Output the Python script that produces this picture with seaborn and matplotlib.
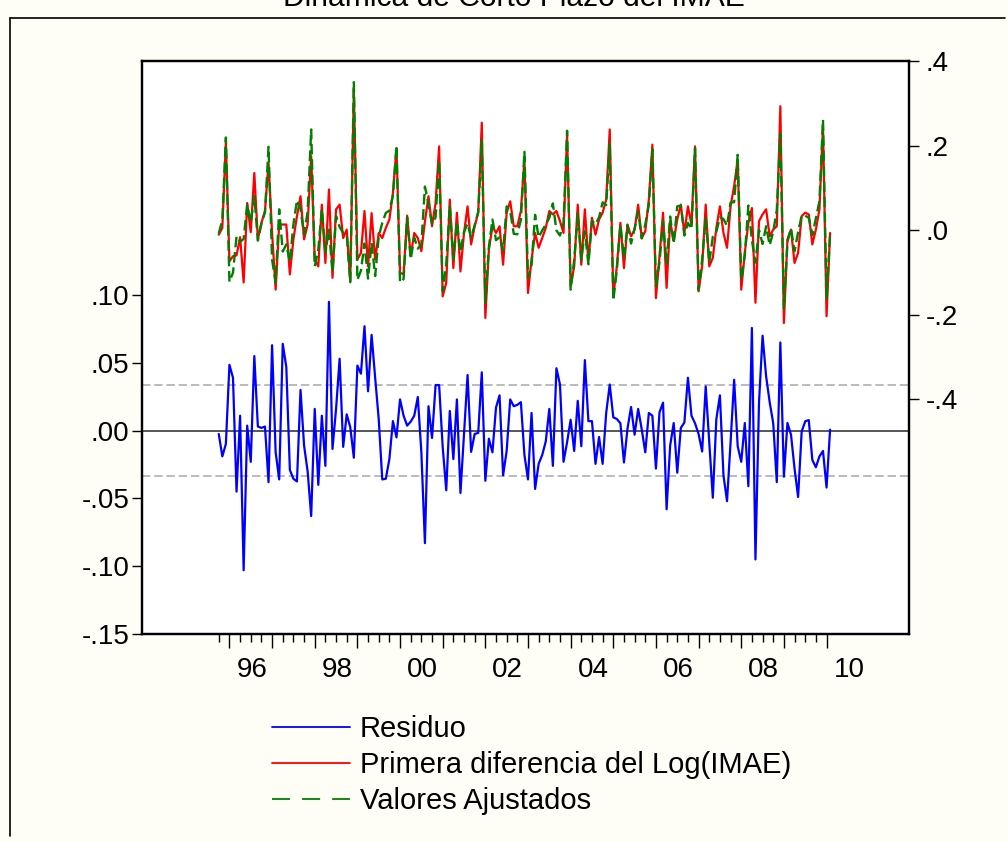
import numpy as np
import pandas as pd
import matplotlib
matplotlib.use("Agg")
import matplotlib.pyplot as plt
import seaborn as sns
from matplotlib.lines import Line2D
from matplotlib.ticker import FixedLocator, NullFormatter

# ---------------- data (monthly, 1995M10 - 2010M2) ----------------
start_month = "1995-10"

residuo = [
    -0.0025, -0.019, -0.0098, 0.0485, 0.039, -0.045, 0.011, -0.103, 0.0037, -0.023,
    0.055, 0.003, 0.002, 0.003, -0.038, 0.063, -0.016, -0.036, 0.064, 0.047,
    -0.029, -0.0355, -0.0375, 0.030, -0.011, -0.030, -0.063, 0.016, -0.040, 0.011,
    -0.026, 0.095, -0.0135, 0.016, 0.053, -0.012, 0.012, 0.0025, -0.020, 0.048,
    0.042, 0.077, 0.029, 0.0706, 0.039, 0.0086, -0.036, -0.0355, -0.021, 0.007,
    -0.005, 0.023, 0.011, 0.0037, 0.0066, 0.011, 0.0248, -0.016, -0.083, 0.018,
    -0.0054, 0.0336, 0.0336, -0.012, -0.044, 0.0145, -0.021, 0.023, -0.046, -0.0025,
    0.041, -0.0157, -0.0025, -0.0017, 0.043, -0.037, -0.006, -0.016, 0.017, 0.026,
    -0.033, -0.015, 0.023, 0.018, 0.019, 0.021, -0.018, -0.036, 0.013, -0.043,
    -0.0245, -0.018, -0.008, 0.016, -0.026, 0.046, 0.034, -0.023, -0.0086, 0.008,
    -0.015, 0.022, -0.0115, 0.052, 0.007, 0.007, -0.0245, -0.0047, -0.0245, 0.013,
    0.034, 0.0098, 0.0086, 0.0054, -0.0235, 0.0015, 0.0174, -0.003, 0.016, 0.001,
    -0.016, 0.013, 0.011, -0.028, 0.0135, 0.0206, -0.058, -0.011, 0.0056, -0.031,
    0.002, 0.006, 0.039, 0.011, 0.0054, -0.0025, -0.0154, 0.0326, -0.0086, -0.0495,
    0.0086, 0.026, -0.033, -0.052, -0.0086, 0.0375, -0.0115, -0.023, 0.0056, -0.041,
    0.0757, -0.095, 0.021, 0.070, 0.040, 0.021, 0.0054, -0.038, 0.065, -0.034,
    0.0056, -0.003, -0.028, -0.049, -0.0007, 0.0069, 0.0078, -0.0216, -0.027, -0.019,
    -0.015, -0.042, 0.0007,
]

primera_diferencia = [
    -0.011, 0.005, 0.209, -0.074, -0.062, -0.060, -0.017, -0.124, 0.064, -0.005,
    0.135, -0.022, 0.017, 0.045, 0.159, -0.007, -0.141, 0.013, 0.013, 0.013,
    -0.105, -0.022, 0.033, 0.080, -0.022, 0.013, 0.175, -0.070, -0.086, 0.060,
    -0.078, 0.096, -0.113, 0.049, 0.060, -0.019, 0.001, -0.121, 0.330, -0.070,
    -0.054, 0.045, -0.086, 0.040, -0.070, -0.007, -0.019, 0.005, 0.025, 0.088,
    0.194, -0.101, -0.105, 0.034, -0.062, -0.007, -0.019, -0.050, 0.020, 0.080,
    0.009, 0.064, 0.198, -0.157, -0.125, 0.072, -0.090, 0.041, -0.098, -0.007,
    0.056, -0.034, 0.009, 0.041, 0.254, -0.208, -0.046, 0.009, -0.007, 0.009,
    -0.082, 0.041, 0.068, 0.009, 0.009, 0.045, 0.167, -0.149, -0.070, -0.007,
    -0.042, -0.019, 0.005, 0.045, 0.037, 0.045, 0.021, -0.007, 0.226, -0.133,
    -0.086, 0.060, -0.082, 0.049, -0.074, 0.029, -0.011, 0.025, 0.041, 0.072,
    0.238, -0.157, -0.086, 0.017, -0.090, 0.013, -0.015, 0.001, 0.060, -0.019,
    -0.003, 0.072, 0.202, -0.161, -0.062, 0.041, -0.137, 0.021, -0.026, 0.025,
    0.060, -0.007, 0.056, 0.013, 0.198, -0.145, -0.086, 0.060, -0.086, -0.066,
    0.005, 0.056, -0.007, -0.042, 0.056, 0.104, 0.167, -0.141, -0.054, 0.017,
    0.052, -0.172, 0.021, 0.037, 0.049, -0.015, 0.001, 0.009, 0.293, -0.220,
    -0.022, 0.001, -0.078, -0.054, 0.033, 0.041, 0.037, -0.034, 0.001, 0.049,
    0.246, -0.204, -0.007,
]

valores_ajustados = [
    -0.0085, 0.024, 0.219, -0.1225, -0.101, -0.015, -0.028, -0.021, 0.060, 0.018,
    0.080, -0.025, 0.015, 0.042, 0.197, -0.070, -0.125, 0.049, -0.051, -0.034,
    -0.076, 0.0135, 0.0705, 0.050, -0.011, 0.043, 0.238, -0.086, -0.046, 0.049,
    -0.052, 0.001, -0.0995, 0.033, 0.007, -0.007, -0.011, -0.1235, 0.350, -0.118,
    -0.096, -0.032, -0.115, -0.0306, -0.109, -0.0156, 0.017, 0.0405, 0.046, 0.081,
    0.199, -0.124, -0.116, 0.030, -0.069, -0.018, -0.044, -0.034, 0.103, 0.062,
    0.014, 0.030, 0.164, -0.145, -0.081, 0.058, -0.069, 0.018, -0.052, -0.0045,
    0.015, -0.018, 0.0115, 0.043, 0.211, -0.171, -0.040, 0.025, -0.024, -0.017,
    -0.049, 0.056, 0.045, -0.009, -0.010, 0.024, 0.185, -0.113, -0.083, 0.036,
    -0.0175, -0.001, 0.013, 0.029, 0.063, -0.001, -0.013, 0.016, 0.235, -0.141,
    -0.071, 0.038, -0.0705, -0.003, -0.081, 0.022, 0.0135, 0.030, 0.0655, 0.059,
    0.204, -0.167, -0.095, 0.012, -0.0665, 0.0115, -0.032, 0.004, 0.044, -0.020,
    0.013, 0.059, 0.191, -0.133, -0.076, 0.020, -0.079, 0.032, -0.032, 0.056,
    0.058, -0.013, 0.017, 0.002, 0.193, -0.142, -0.070, 0.028, -0.077, -0.016,
    -0.004, 0.030, 0.026, 0.010, 0.065, 0.066, 0.178, -0.118, -0.060, 0.058,
    -0.024, -0.077, 0.000, -0.033, 0.009, -0.036, -0.004, 0.047, 0.228, -0.186,
    -0.028, 0.004, -0.050, -0.005, 0.034, 0.034, 0.029, -0.012, 0.028, 0.068,
    0.261, -0.162, -0.008,
]

left_ticks = [-0.15, -0.10, -0.05, 0.00, 0.05, 0.10]
left_tick_labels = ["-.15", "-.10", "-.05", ".00", ".05", ".10"]
right_ticks = [-0.4, -0.2, 0.0, 0.2, 0.4]
right_tick_labels = ["-.4", "-.2", ".0", ".2", ".4"]
year_labels = ["96", "98", "00", "02", "04", "06", "08", "10"]
band = 0.0338
series_names = ["Residuo", "Primera diferencia del Log(IMAE)", "Valores Ajustados"]
title = "Dinámica de Corto Plazo del IMAE"

# ---------------- build frame ----------------
fechas = pd.date_range(start_month, periods=len(residuo), freq="MS")
df = pd.DataFrame({
    "t": np.arange(len(residuo)),
    "fecha": fechas,
    "Residuo": residuo,
    "Actual": primera_diferencia,
    "Ajustado": valores_ajustados,
})

sns.set_theme(style="ticks")
plt.rcParams["font.family"] = ["Liberation Sans", "DejaVu Sans"]
plt.rcParams["text.color"] = "black"

W, H = 1008, 842
BG = "#FEFEF6"
FS = 20

fig = plt.figure(figsize=(W / 100, H / 100), dpi=100, facecolor=BG)
ax_l, ax_r, ax_t, ax_b = 142, 909, 61, 634
ax = fig.add_axes([ax_l / W, 1 - ax_b / H, (ax_r - ax_l) / W, (ax_b - ax_t) / H])
ax.set_facecolor("white")

# reference lines (left axis)
ax.axhline(0, color="#3a3a3a", lw=1.2, zorder=1)
for s in (band, -band):
    ax.axhline(s, color="#a8a8a8", lw=1.1, ls=(0, (5.5, 2.5)), zorder=1)

sns.lineplot(data=df, x="t", y="Residuo", ax=ax, color="#0000FF", lw=1.6, zorder=3)

ax2 = ax.twinx()
sns.lineplot(data=df, x="t", y="Actual", ax=ax2, color="#FF0000", lw=1.6, zorder=3)
sns.lineplot(data=df, x="t", y="Ajustado", ax=ax2, color="#008000", lw=1.7,
             ls=(0, (4.5, 2)), zorder=4)

# limits
ax.set_xlim(-21.6, 194.2)
ax.set_ylim(-0.15, 0.2726)
ax2.set_ylim(-0.956, 0.40)

# y ticks
ax.set_yticks(left_ticks)
ax.set_yticklabels(left_tick_labels)
ax2.set_yticks(right_ticks)
ax2.set_yticklabels(right_tick_labels)
ax.tick_params(axis="y", which="major", direction="out", length=7, width=1,
               labelsize=FS, pad=2, colors="black", left=True)
ax2.tick_params(axis="y", which="major", direction="out", length=7, width=1,
                labelsize=FS, pad=5, colors="black", right=True)

# x ticks: major at January, minor each quarter
jan = df.loc[df["fecha"].dt.month == 1, "t"].tolist()
qtr = df.loc[df["fecha"].dt.month.isin([4, 7, 10]), "t"].tolist()
ax.xaxis.set_major_locator(FixedLocator(jan))
ax.xaxis.set_minor_locator(FixedLocator(qtr))
ax.xaxis.set_major_formatter(NullFormatter())
ax.tick_params(axis="x", which="major", direction="out", length=10, width=1,
               colors="black", bottom=True)
ax.tick_params(axis="x", which="minor", direction="out", length=6, width=1,
               colors="black", bottom=True)

# year labels centred on each year (July position)
start_year, start_mon = fechas[0].year, fechas[0].month
trans = ax.get_xaxis_transform()
for lab in year_labels:
    yr = 2000 + int(lab) if int(lab) < 50 else 1900 + int(lab)
    pos = (yr - start_year) * 12 + (7 - start_mon)
    ax.text(pos + 0.3, -(670 - ax_b) / (ax_b - ax_t), lab, transform=trans,
            ha="center", va="center", fontsize=FS, color="black")

ax.set_xlabel("")
ax.set_ylabel("")
ax2.set_ylabel("")
for a in (ax, ax2):
    for sp in a.spines.values():
        sp.set_color("black")
        sp.set_linewidth(1.6)
        sp.set_visible(True)

# title (partially cut at the top, as in the reference)
fig.text(514 / W, 1 - 6 / H, title, ha="center", va="baseline", fontsize=21.6,
         color="black")

# outer frame (left and top edges)
fig.add_artist(Line2D([10 / W, 10 / W], [1 - 18 / H, 1 - 836 / H],
                      transform=fig.transFigure, color="black", lw=1.2))
fig.add_artist(Line2D([10 / W, 1005 / W], [1 - 18 / H, 1 - 18 / H],
                      transform=fig.transFigure, color="black", lw=1.2))

# legend
handles = [
    Line2D([], [], color="#0000FF", lw=1.3),
    Line2D([], [], color="#FF0000", lw=1.3),
    Line2D([], [], color="#008000", lw=1.3, ls=(0, (10, 6.65))),
]
fig.legend(handles, series_names, loc="upper left",
           bbox_to_anchor=(272 / W, 1 - 715 / H), frameon=False, fontsize=21,
           labelcolor="black",
           handlelength=2.67, handletextpad=0.34, labelspacing=0.28,
           borderpad=0, borderaxespad=0)

fig.savefig("out.png", dpi=100, facecolor=BG)
